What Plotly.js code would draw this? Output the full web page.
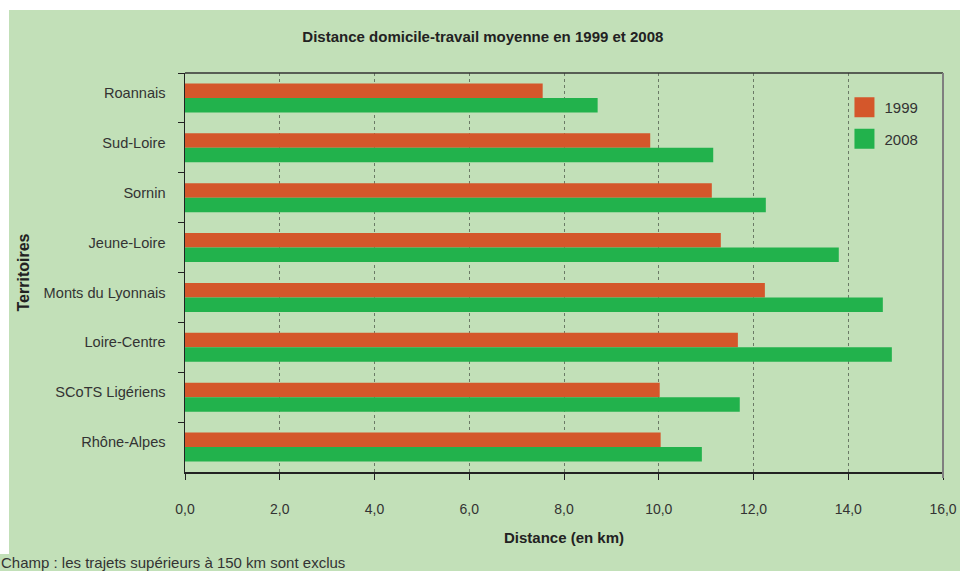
<!DOCTYPE html>
<html>
<head>
<meta charset="utf-8">
<script src="https://cdn.plot.ly/plotly-3.0.1.min.js"></script>
<style>
  html, body { margin: 0; padding: 0; background: #ffffff; }
  #wrap { position: relative; width: 960px; height: 571px; overflow: hidden; }
  #bg { position: absolute; left: 9px; top: 10px; width: 951px; height: 561px; background: #c2e0b8; }
  #bg2 { position: absolute; left: 0px; top: 554px; width: 960px; height: 17px; background: #c2e0b8; }
  #chart { position: absolute; left: 0; top: 0; width: 960px; height: 571px; }
</style>
</head>
<body>
<div id="wrap">
  <div id="bg"></div>
  <div id="bg2"></div>
  <div id="chart"></div>
</div>
<script>
const territoires = ["Roannais", "Sud-Loire", "Sornin", "Jeune-Loire", "Monts du Lyonnais", "Loire-Centre", "SCoTS Ligériens", "Rhône-Alpes"];
const dist1999 = [7.55, 9.82, 11.12, 11.31, 12.24, 11.67, 10.02, 10.04];
const dist2008 = [8.71, 11.15, 12.26, 13.80, 14.73, 14.92, 11.71, 10.91];
const seriesNames = ["1999", "2008"];
const xTicks = [0, 2, 4, 6, 8, 10, 12, 14, 16];

const font = "'Liberation Sans', Arial, sans-serif";

const traces = [
  { type: "bar", orientation: "h", name: seriesNames[0], legendgroup: "a", y: territoires, x: dist1999,
    marker: { color: "#d4572b" }, hoverinfo: "x+y" },
  { type: "bar", orientation: "h", name: seriesNames[1], legendgroup: "b", y: territoires, x: dist2008,
    marker: { color: "#22b24c" }, hoverinfo: "x+y" }
];

const layout = {
  width: 960, height: 571,
  paper_bgcolor: "rgba(0,0,0,0)",
  plot_bgcolor: "rgba(0,0,0,0)",
  margin: { l: 185, r: 17, t: 73, b: 99, pad: 0 },
  separators: ",.",
  barmode: "group",
  bargap: 0.42,
  bargroupgap: 0,
  showlegend: true,
  legend: {
    x: 0.870, y: 0.955, xanchor: "left", yanchor: "top",
    bgcolor: "rgba(0,0,0,0)",
    font: { family: font, size: 15, color: "#333333" },
    traceorder: "grouped", tracegroupgap: 9, itemwidth: 30
  },
  title: {
    text: "<b>Distance domicile-travail moyenne en 1999 et 2008</b>",
    font: { family: font, size: 15, color: "#222222" },
    x: 0.503, xref: "container", xanchor: "center",
    y: 38, yref: "container", yanchor: "middle"
  },
  xaxis: {
    range: [0, 16],
    tickvals: xTicks,
    tickformat: ".1f",
    ticks: "outside", ticklen: 6, tickcolor: "#222222",
    showline: true, linecolor: "#222222", linewidth: 1.5,
    mirror: false,
    showgrid: true, gridcolor: "#6b7a66", griddash: "dot", gridwidth: 1,
    zeroline: false,
    tickfont: { family: font, size: 14, color: "#333333" },
    ticklabelstandoff: 18,
    title: { text: "<b>Distance (en km)</b>", font: { family: font, size: 15, color: "#222222" }, standoff: 16 }
  },
  yaxis: {
    type: "category",
    autorange: "reversed",
    ticks: "outside", tickson: "boundaries", ticklen: 6, tickcolor: "#222222",
    showline: true, linecolor: "#222222", linewidth: 1.5,
    showgrid: false, zeroline: false,
    tickfont: { family: font, size: 14.6, color: "#333333" },
    ticklabelstandoff: 15,
    ticklabelshift: 5,
    title: { text: "<b>Territoires</b>", font: { family: font, size: 16, color: "#222222" }, standoff: 10 }
  },
  shapes: [
    { type: "line", xref: "paper", yref: "paper", x0: 0, x1: 1, y0: 1, y1: 1,
      line: { color: "#333333", width: 1.5 } },
    { type: "line", xref: "paper", yref: "paper", x0: 1, x1: 1, y0: -0.015, y1: 1,
      line: { color: "#7f7f7f", width: 2 } }
  ],
  annotations: [
    { text: "Champ : les trajets supérieurs à 150 km sont exclus",
      xref: "paper", yref: "paper", x: -0.245, y: -0.228, xanchor: "left", yanchor: "middle",
      showarrow: false, font: { family: font, size: 15, color: "#333333" } }
  ]
};

Plotly.newPlot("chart", traces, layout, { displayModeBar: false, staticPlot: true }).then(function () {
  document.querySelectorAll("#chart .legendpoints path").forEach(function (p) {
    p.setAttribute("d", "M10,10H-10V-10H10Z");
  });
});
</script>
</body>
</html>
